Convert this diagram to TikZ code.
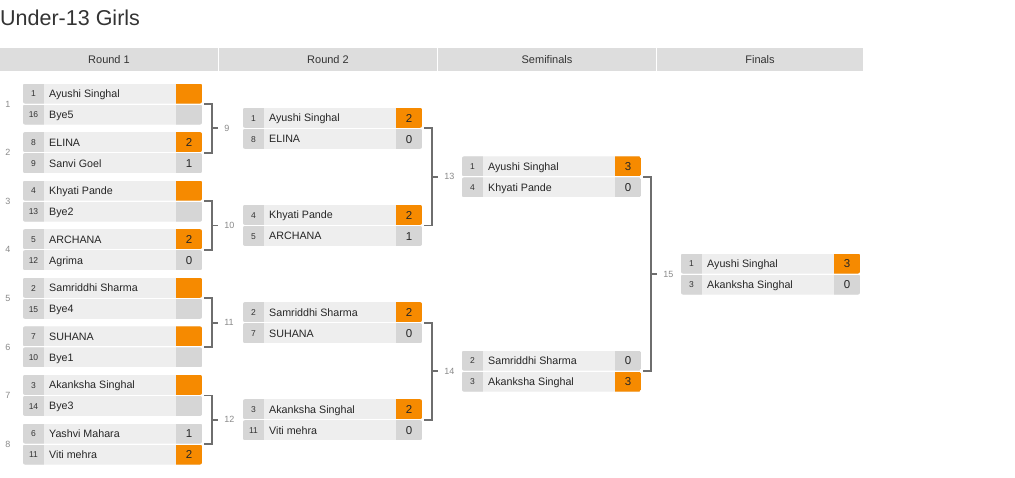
\documentclass[tikz,border=0pt]{standalone}
\usepackage{fontspec}
\setmainfont{Liberation Sans}
\usetikzlibrary{calc}
\definecolor{rowbg}{HTML}{EEEEEE}
\definecolor{cellbg}{HTML}{D6D6D6}
\definecolor{win}{HTML}{F68A00}
\definecolor{hdr}{HTML}{DDDDDD}
\definecolor{txt}{HTML}{333333}
\definecolor{lblc}{HTML}{8A8A8A}
\definecolor{brc}{HTML}{6E6E6E}
\newcommand\mrow[7]{%
  \begin{scope}
    \clip[rounded corners=2pt] ({#1},{#2}) rectangle ++(179,20);
    \fill[rowbg] ({#1},{#2}) rectangle ++(179,20);
    \fill[cellbg] ({#1},{#2}) rectangle ++(21,20);
    \fill[#6] ({#1+153},{#2}) rectangle ++(26,20);
  \end{scope}
  \node[seedtxt] (#7s) at ({#1+10.5},{#2+13.3}) {#3};
  \node[nametxt] (#7n) at ({#1+26},{#2+14}) {#4};
  \node[scoretxt] (#7c) at ({#1+166},{#2+14.2}) {#5};
}
\newcommand\matchnode[3]{\node[mbox] (#1) at ({#2+89.5},{#3}) {};}
\newcommand\bracketjoin[3]{%
  \coordinate (#1j) at ($(#1.east)!.5!(#2.east)+(9.5,0)$);
  \draw[br] ([xshift=2pt]#1.east) -| (#1j) |- ([xshift=2pt]#2.east);
  \draw[br] (#1j) -- ++(6.5,0);
  \node[lbl] (#1l) at ([xshift=12.5pt]#1j) {#3};
}
\begin{document}
\begin{tikzpicture}[x=1pt,y=-1pt,
  seedtxt/.style={inner sep=0,anchor=base,font=\fontsize{8.5}{9}\selectfont,text=txt},
  nametxt/.style={inner sep=0,anchor=base west,font=\fontsize{10.7}{12}\selectfont,text=black!85},
  scoretxt/.style={inner sep=0,anchor=base,font=\fontsize{11.5}{12}\selectfont,text=black!85},
  mbox/.style={inner sep=0,minimum width=179pt,minimum height=41pt,draw=none},
  br/.style={draw=brc,line width=1.8pt},
  lbl/.style={inner sep=0,anchor=west,font=\fontsize{9}{10}\selectfont,text=lblc},
  rlbl/.style={inner sep=0,font=\fontsize{9}{10}\selectfont,text=lblc},
  hdrtxt/.style={inner sep=0,font=\fontsize{11}{12}\selectfont,text=txt}]
\useasboundingbox (0,0) rectangle (1015,477);
\fill[white] (0,0) rectangle (1015,477);
% title
\node[inner sep=0,anchor=base west,font=\fontsize{21.5}{24}\selectfont,text=txt] (title) at (0,25) {Under-13 Girls};
% headers
\fill[hdr] (0,48) rectangle (218,71);
\fill[hdr] (219,48) rectangle (437,71);
\fill[hdr] (438,48) rectangle (656,71);
\fill[hdr] (657,48) rectangle (863,71);
\node[hdrtxt] (h1) at (109,59.5) {Round 1};
\node[hdrtxt] (h2) at (328,59.5) {Round 2};
\node[hdrtxt] (h3) at (547,59.5) {Semifinals};
\node[hdrtxt] (h4) at (760,59.5) {Finals};
% Round 1
\matchnode{m1}{23}{104}
\mrow{23}{104-20.5}{1}{Ayushi Singhal}{}{win}{m1a}
\mrow{23}{104+0.5}{16}{Bye5}{}{cellbg}{m1b}
\matchnode{m2}{23}{152.6}
\mrow{23}{152.6-20.5}{8}{ELINA}{2}{win}{m2a}
\mrow{23}{152.6+0.5}{9}{Sanvi Goel}{1}{cellbg}{m2b}
\matchnode{m3}{23}{201.1}
\mrow{23}{201.1-20.5}{4}{Khyati Pande}{}{win}{m3a}
\mrow{23}{201.1+0.5}{13}{Bye2}{}{cellbg}{m3b}
\matchnode{m4}{23}{249.7}
\mrow{23}{249.7-20.5}{5}{ARCHANA}{2}{win}{m4a}
\mrow{23}{249.7+0.5}{12}{Agrima}{0}{cellbg}{m4b}
\matchnode{m5}{23}{298.3}
\mrow{23}{298.3-20.5}{2}{Samriddhi Sharma}{}{win}{m5a}
\mrow{23}{298.3+0.5}{15}{Bye4}{}{cellbg}{m5b}
\matchnode{m6}{23}{346.9}
\mrow{23}{346.9-20.5}{7}{SUHANA}{}{win}{m6a}
\mrow{23}{346.9+0.5}{10}{Bye1}{}{cellbg}{m6b}
\matchnode{m7}{23}{395.4}
\mrow{23}{395.4-20.5}{3}{Akanksha Singhal}{}{win}{m7a}
\mrow{23}{395.4+0.5}{14}{Bye3}{}{cellbg}{m7b}
\matchnode{m8}{23}{444}
\mrow{23}{444-20.5}{6}{Yashvi Mahara}{1}{cellbg}{m8a}
\mrow{23}{444+0.5}{11}{Viti mehra}{2}{win}{m8b}
% round-1 match numbers
\node[rlbl] (r1) at (8,104) {1};
\node[rlbl] (r2) at (8,152.6) {2};
\node[rlbl] (r3) at (8,201.1) {3};
\node[rlbl] (r4) at (8,249.7) {4};
\node[rlbl] (r5) at (8,298.3) {5};
\node[rlbl] (r6) at (8,346.9) {6};
\node[rlbl] (r7) at (8,395.4) {7};
\node[rlbl] (r8) at (8,444) {8};
% Round 2
\matchnode{m9}{243}{128.3}
\mrow{243}{128.3-20.5}{1}{Ayushi Singhal}{2}{win}{m9a}
\mrow{243}{128.3+0.5}{8}{ELINA}{0}{cellbg}{m9b}
\matchnode{m10}{243}{225.4}
\mrow{243}{225.4-20.5}{4}{Khyati Pande}{2}{win}{m10a}
\mrow{243}{225.4+0.5}{5}{ARCHANA}{1}{cellbg}{m10b}
\matchnode{m11}{243}{322.6}
\mrow{243}{322.6-20.5}{2}{Samriddhi Sharma}{2}{win}{m11a}
\mrow{243}{322.6+0.5}{7}{SUHANA}{0}{cellbg}{m11b}
\matchnode{m12}{243}{419.7}
\mrow{243}{419.7-20.5}{3}{Akanksha Singhal}{2}{win}{m12a}
\mrow{243}{419.7+0.5}{11}{Viti mehra}{0}{cellbg}{m12b}
% Semifinals
\matchnode{m13}{462}{176.9}
\mrow{462}{176.9-20.5}{1}{Ayushi Singhal}{3}{win}{m13a}
\mrow{462}{176.9+0.5}{4}{Khyati Pande}{0}{cellbg}{m13b}
\matchnode{m14}{462}{371.1}
\mrow{462}{371.1-20.5}{2}{Samriddhi Sharma}{0}{cellbg}{m14a}
\mrow{462}{371.1+0.5}{3}{Akanksha Singhal}{3}{win}{m14b}
% Finals
\matchnode{m15}{681}{274}
\mrow{681}{274-20.5}{1}{Ayushi Singhal}{3}{win}{m15a}
\mrow{681}{274+0.5}{3}{Akanksha Singhal}{0}{cellbg}{m15b}
% brackets
\bracketjoin{m1}{m2}{9}
\bracketjoin{m3}{m4}{10}
\bracketjoin{m5}{m6}{11}
\bracketjoin{m7}{m8}{12}
\bracketjoin{m9}{m10}{13}
\bracketjoin{m11}{m12}{14}
\bracketjoin{m13}{m14}{15}
\end{tikzpicture}
\end{document}
